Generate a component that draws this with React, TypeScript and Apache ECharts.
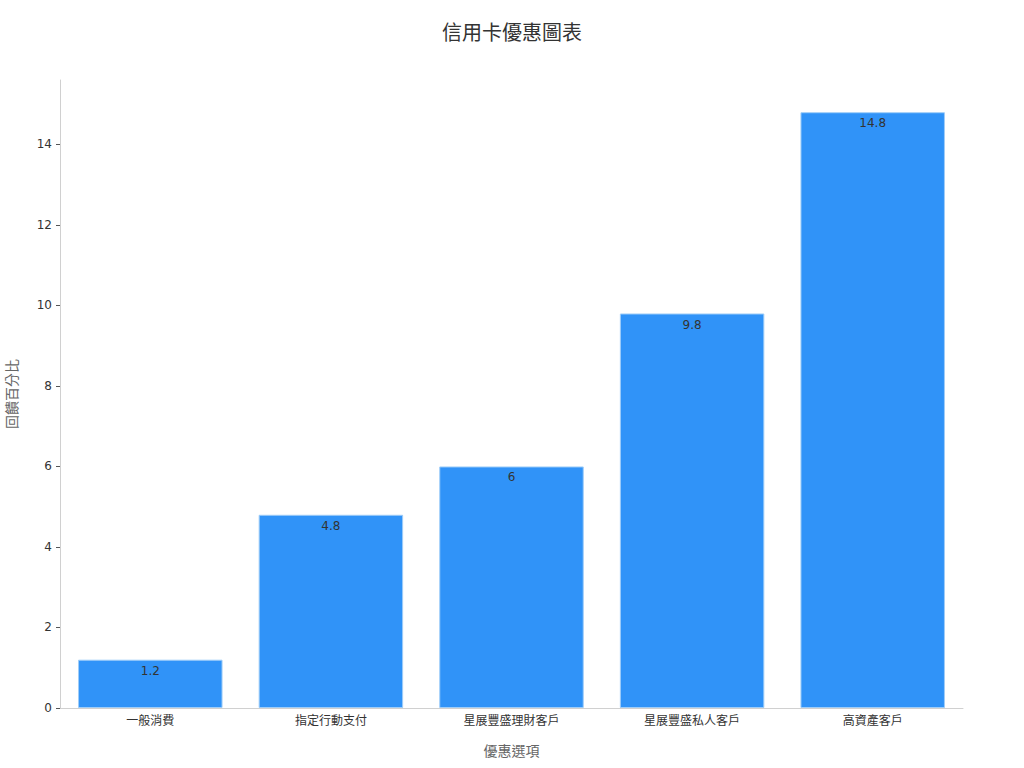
import React, { useEffect, useRef } from 'react';
import * as echarts from 'echarts';

const categories = ['一般消費', '指定行動支付', '星展豐盛理財客戶', '星展豐盛私人客戶', '高資產客戶'];
const values = [1.2, 4.8, 6, 9.8, 14.8];
const yTicks = [0, 2, 4, 6, 8, 10, 12, 14];

const FONT = '"DejaVu Sans", "Noto Sans CJK TC", sans-serif';

const App: React.FC = () => {
  const chartRef = useRef<HTMLDivElement>(null);

  useEffect(() => {
    if (!chartRef.current) return;
    const chart = echarts.init(chartRef.current, undefined, { renderer: 'svg' });
    chart.setOption({
      animation: false,
      backgroundColor: '#ffffff',
      textStyle: { fontFamily: FONT },
      title: {
        text: '信用卡優惠圖表',
        left: 'center',
        top: 18,
        textStyle: { fontSize: 20, fontWeight: 'normal', color: '#333333', fontFamily: FONT },
      },
      grid: { left: 60, right: 61, top: 80, bottom: 60, containLabel: false, outerBoundsMode: 'none' },
      xAxis: {
        type: 'category',
        data: categories,
        name: '優惠選項',
        nameLocation: 'middle',
        nameGap: 36,
        nameTextStyle: { fontSize: 14, color: '#666666', fontFamily: FONT },
        axisLine: { lineStyle: { color: '#d0d0d0', width: 1 } },
        axisTick: { alignWithLabel: true, length: 4, lineStyle: { color: '#555555' } },
        axisLabel: { fontSize: 12, color: '#333333', margin: 7, fontFamily: FONT },
      },
      yAxis: {
        type: 'value',
        min: 0,
        max: 15.6,
        interval: 2,
        name: '回饋百分比',
        nameLocation: 'middle',
        nameGap: 41,
        nameTextStyle: { fontSize: 14, color: '#666666', fontFamily: FONT },
        axisLine: { show: true, lineStyle: { color: '#d0d0d0', width: 1 } },
        axisTick: { show: true, length: 4, lineStyle: { color: '#555555' }, customValues: yTicks },
        axisLabel: { fontSize: 12, color: '#333333', margin: 8, customValues: yTicks, fontFamily: FONT },
        splitLine: { show: false },
      },
      series: [
        {
          type: 'bar',
          data: values,
          barCategoryGap: '20%',
          itemStyle: { color: '#3093F8', borderColor: '#9fcdf8', borderWidth: 1 },
          label: {
            show: true,
            position: 'insideTop',
            distance: 5,
            fontSize: 12,
            color: '#333333',
            fontFamily: FONT,
          },
        },
      ],
    });
    return () => {
      chart.dispose();
    };
  }, []);

  return (
    <div
      ref={chartRef}
      style={{ position: 'fixed', left: 0, top: 0, width: '1024px', height: '768px' }}
    />
  );
};

export default App;
